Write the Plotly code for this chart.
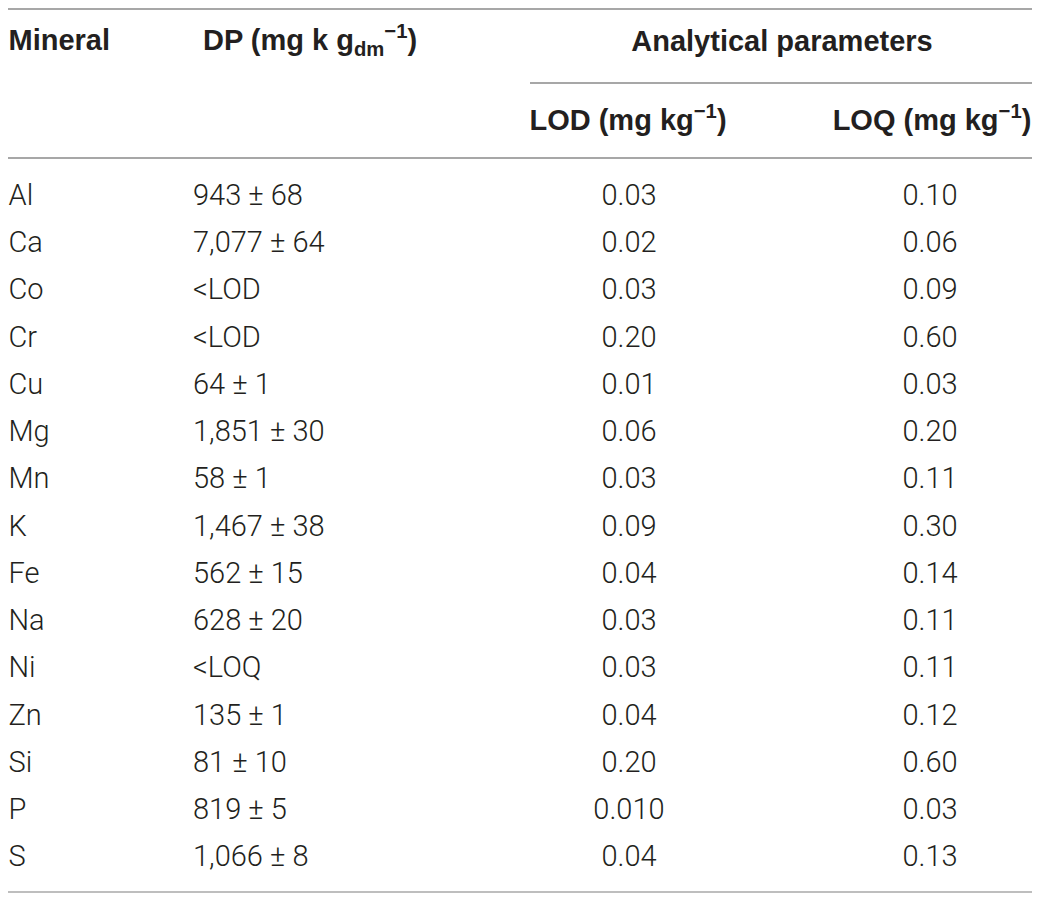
import plotly.graph_objects as go

# table content
minerals = ["Al", "Ca", "Co", "Cr", "Cu", "Mg", "Mn", "K", "Fe", "Na", "Ni", "Zn", "Si", "P", "S"]
dp = ["943 ± 68", "7,077 ± 64", "&lt;LOD", "&lt;LOD", "64 ± 1", "1,851 ± 30", "58 ± 1",
      "1,467 ± 38", "562 ± 15", "628 ± 20", "&lt;LOQ", "135 ± 1", "81 ± 10", "819 ± 5", "1,066 ± 8"]
lod = ["0.03", "0.02", "0.03", "0.20", "0.01", "0.06", "0.03", "0.09", "0.04", "0.03",
       "0.03", "0.04", "0.20", "0.010", "0.04"]
loq = ["0.10", "0.06", "0.09", "0.60", "0.03", "0.20", "0.11", "0.30", "0.14", "0.11",
       "0.11", "0.12", "0.60", "0.03", "0.13"]

header_top = ["Mineral", "DP (mg k g<sub>dm</sub><sup>−1</sup>)", "Analytical parameters"]
header_sub = ["LOD (mg kg<sup>−1</sup>)", "LOQ (mg kg<sup>−1</sup>)"]

# axes are in screen pixels (page body has an 8px margin)
first_row = 197.5
pitch = 47.25
row_y = [first_row + i * pitch for i in range(len(minerals))]

body_font = dict(family="Roboto", size=29, color="#231f20", weight=300)
head_font = dict(family="Liberation Sans", size=29, color="#231f20", weight="bold")

fig = go.Figure()

def add_col(x, texts, ys, pos, font):
    fig.add_trace(go.Scatter(
        x=[x] * len(texts), y=ys, text=texts, mode="text",
        textposition=pos, textfont=font, hoverinfo="skip",
        showlegend=False, cliponaxis=False,
    ))

add_col(8.5, minerals, row_y, "middle right", body_font)
add_col(193, dp, row_y, "middle right", body_font)
add_col(629, lod, row_y, "middle center", body_font)
add_col(930, loq, row_y, "middle center", body_font)

add_col(8.5, [header_top[0]], [43], "middle right", head_font)
add_col(203, [header_top[1]], [43], "middle right", head_font)
add_col(782, [header_top[2]], [43.5], "middle center", head_font)
add_col(628, [header_sub[0]], [123], "middle center", head_font)
add_col(932, [header_sub[1]], [123], "middle center", head_font)

line_color = "#8a8a8a"
fig.add_shape(type="line", x0=0, x1=1034, y0=9, y1=9, line=dict(color=line_color, width=1.5))
fig.add_shape(type="line", x0=530, x1=1034, y0=83, y1=83, line=dict(color=line_color, width=1.5))
fig.add_shape(type="line", x0=0, x1=1034, y0=158, y1=158, line=dict(color=line_color, width=1.5))
fig.add_shape(type="line", x0=0, x1=1034, y0=892, y1=892, line=dict(color="#a8a8a8", width=1.5))

fig.update_xaxes(range=[8, 1040], visible=False, fixedrange=True)
fig.update_yaxes(range=[898, 8], visible=False, fixedrange=True)
fig.update_layout(
    width=1032, height=890, autosize=False,
    margin=dict(l=0, r=0, t=0, b=0),
    plot_bgcolor="white", paper_bgcolor="white",
)

fig.write_html("out.html")
